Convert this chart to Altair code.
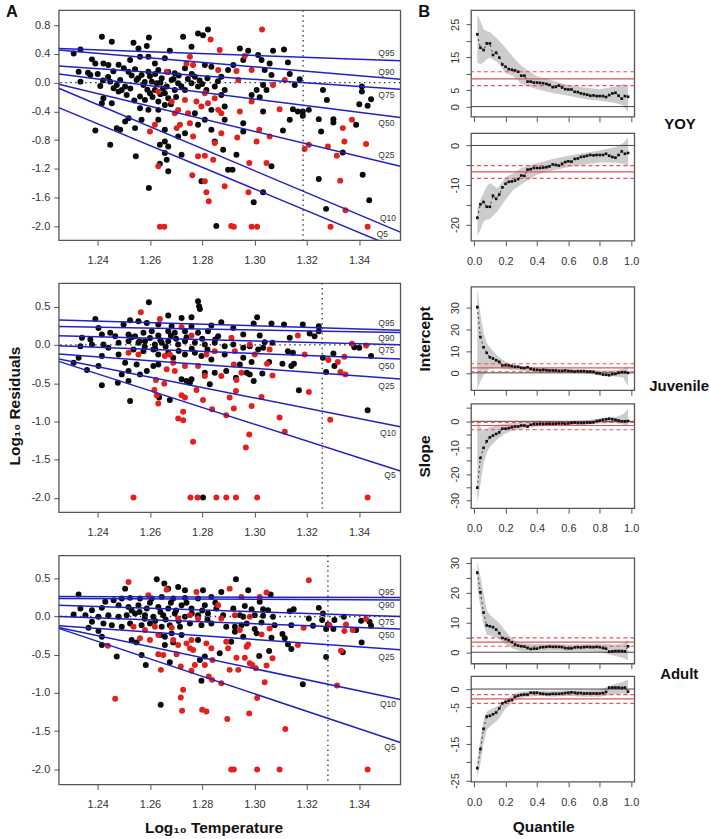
import altair as alt
import pandas as pd

FONT = "Liberation Sans"

# ---------------- Panel A: log10 residuals vs log10 temperature ----------------
TEMP_DOMAIN = [1.2251, 1.3558]
TEMP_TICKS = [1.24, 1.26, 1.28, 1.30, 1.32, 1.34]
QUANT_NAMES = ["Q95", "Q90", "Q75", "Q50", "Q25", "Q10", "Q5"]

# YOY
yoy_black = [
    (1.2416, 0.638), (1.2454, 0.569), (1.2308, 0.407), (1.2334, 0.462), (1.2378, 0.324), (1.2327, 0.153),
    (1.2334, 0.014), (1.2363, 0.139), (1.2372, 0.107), (1.2391, 0.268), (1.2422, 0.268), (1.2441, 0.245),
    (1.2410, -0.046), (1.2448, 0.014), (1.2461, -0.078), (1.2473, -0.032), (1.2480, -0.125), (1.2492, -0.102),
    (1.2486, 0.037), (1.2505, -0.055), (1.2511, -0.171), (1.2422, -0.217), (1.2416, -0.286), (1.2454, -0.286),
    (1.2518, -0.494), (1.2391, -0.666), (1.2448, -0.864), (1.2473, -0.633), (1.2486, -0.656), (1.2537, 0.555),
    (1.2556, 0.476), (1.2588, 0.509), (1.2596, 0.629), (1.2524, 0.315), (1.2562, 0.361), (1.2594, 0.361),
    (1.2619, 0.268), (1.2518, 0.153), (1.2543, 0.185), (1.2568, 0.107), (1.2594, 0.153), (1.2632, 0.176),
    (1.2657, 0.338), (1.2676, 0.444), (1.2549, 0.037), (1.2575, -0.032), (1.2607, 0.014), (1.2626, -0.009),
    (1.2645, 0.060), (1.2664, -0.055), (1.2683, 0.037), (1.2695, 0.130), (1.2727, 0.638), (1.2734, 0.199),
    (1.2759, 0.499), (1.2772, 0.083), (1.2784, 0.684), (1.2803, 0.661), (1.2822, 0.740), (1.2810, 0.245),
    (1.2835, 0.222), (1.2562, -0.194), (1.2581, -0.240), (1.2600, -0.148), (1.2619, -0.102), (1.2632, -0.263),
    (1.2657, -0.148), (1.2562, -0.356), (1.2594, -0.379), (1.2632, -0.379), (1.2657, -0.310), (1.2670, -0.217),
    (1.2505, -0.541), (1.2543, -0.633), (1.2568, -0.518), (1.2632, -0.518), (1.2657, -0.656), (1.2708, -0.749),
    (1.2734, -0.703), (1.2638, -0.864), (1.2657, -0.818), (1.2670, -0.888), (1.2657, -0.980), (1.2664, -1.072),
    (1.2638, -1.128), (1.2670, -1.234), (1.2546, -1.026), (1.2596, -1.465), (1.2721, -1.003), (1.2772, -0.425),
    (1.2784, -0.587), (1.2810, -0.518), (1.2835, -0.656), (1.2848, -0.818), (1.2854, -1.997), (1.2797, -1.373),
    (1.2873, 0.083), (1.2886, -0.102), (1.2899, 0.176), (1.2695, -0.102), (1.2708, -0.009), (1.2734, -0.102),
    (1.2759, -0.009), (1.2784, -0.055), (1.2816, -0.102), (1.2848, -0.055), (1.2873, -0.171), (1.2835, -0.379),
    (1.2886, -0.333), (1.2886, -0.518), (1.2899, -1.211), (1.2880, -0.934),
    (1.2530, 0.100), (1.2555, 0.060), (1.2580, 0.010), (1.2600, 0.090), (1.2620, 0.120), (1.2640, 0.000),
    (1.2650, -0.080), (1.2670, 0.150), (1.2690, 0.050), (1.2710, 0.100), (1.2720, -0.050), (1.2745, 0.050),
    (1.2760, 0.120), (1.2790, 0.030), (1.2800, -0.020), (1.2820, 0.060), (1.2860, 0.020), (1.2590, -0.100),
    (1.2610, -0.200), (1.2640, -0.160), (1.2680, -0.300), (1.2700, -0.200), (1.2525, -0.080), (1.2540, -0.250),
    (1.2500, 0.200), (1.2480, 0.250), (1.2460, 0.160), (1.2440, 0.080), (1.2420, 0.030), (1.2400, 0.120),
    (1.2944, 0.476), (1.2976, 0.444), (1.3014, 0.384), (1.3027, 0.315), (1.3058, 0.268), (1.3071, 0.444),
    (1.3113, 0.462), (1.3128, 0.282), (1.2957, 0.315), (1.2919, 0.245), (1.3039, 0.176), (1.3065, 0.107),
    (1.3135, 0.120), (1.3173, 0.046), (1.3154, -0.032), (1.3033, -0.032), (1.3008, -0.102), (1.2989, -0.171),
    (1.3020, -0.203), (1.3046, -0.102), (1.3147, -0.370), (1.3166, -0.402), (1.3185, -0.402), (1.3208, -0.379),
    (1.3185, -0.462), (1.3135, -0.518), (1.3033, -0.402), (1.3109, -0.666), (1.2957, -0.564), (1.2957, -0.680),
    (1.3262, -0.102), (1.3277, -0.240), (1.3246, -0.508), (1.3255, -0.680), (1.3302, -0.508), (1.3302, -0.555),
    (1.3389, -0.587), (1.3401, -0.300), (1.3433, -0.323), (1.3446, -0.231), (1.3411, -0.125), (1.3411, -0.055),
    (1.3338, -0.971), (1.3246, -1.341), (1.3414, -1.281), (1.3439, -1.636), (1.3274, -1.757), (1.3065, -1.165),
    (1.3033, -1.525), (1.2997, -1.664), (1.2931, -1.003), (1.2916, -1.211),
]
yoy_red = [
    (1.2832, 0.601), (1.2753, 0.361), (1.2740, 0.268), (1.2765, 0.245), (1.2664, 0.153), (1.2632, -0.125),
    (1.2683, -0.263), (1.2695, -0.425), (1.2708, -0.379), (1.2734, -0.240), (1.2746, -0.425), (1.2753, -0.564),
    (1.2619, -0.587), (1.2600, -0.680), (1.2702, -0.633), (1.2715, -0.587), (1.2778, -0.263), (1.2797, -0.333),
    (1.2810, -0.148), (1.2822, -0.286), (1.2848, -0.217), (1.2861, -0.379), (1.2873, -0.425), (1.2765, -0.749),
    (1.2784, -1.026), (1.2810, -1.017), (1.2842, -1.072), (1.2848, -0.841), (1.2810, -1.373), (1.2816, -1.525),
    (1.2825, -1.650), (1.2762, -1.290), (1.2632, -1.165), (1.2638, -2.006), (1.2655, -2.006), (1.2873, -0.703),
    (1.2886, -1.442), (1.2861, 0.176), (1.2867, 0.453), (1.2911, -1.997), (1.3029, 0.740), (1.2963, 0.370),
    (1.2989, 0.176), (1.2931, 0.162), (1.2938, 0.037), (1.2989, -0.263), (1.2944, -0.402), (1.3096, -0.370),
    (1.3116, 0.037), (1.3071, -0.032), (1.3018, -0.656), (1.3058, -0.749), (1.2934, -0.763), (1.3008, -0.818),
    (1.3192, -0.924), (1.3208, -0.864), (1.3281, -0.888), (1.3315, -1.017), (1.3338, -0.633), (1.3344, -0.818),
    (1.3373, -0.518), (1.3427, -0.855), (1.3328, -1.364), (1.3348, -1.775), (1.2980, -1.119), (1.3046, -1.119),
    (1.2977, -1.525), (1.2921, -2.006), (1.2989, -2.006), (1.3010, -2.006), (1.3291, -2.006), (1.3433, -2.006),
]
yoy_line_left = [0.476, 0.453, 0.231, 0.120, -0.023, -0.078, -0.347]
yoy_line_right = [0.305, 0.047, -0.092, -0.486, -1.165, -2.080, -2.325]
yoy_label_x = [1.3474, 1.3474, 1.3474, 1.3474, 1.3474, 1.3480, 1.3468]
yoy_label_y = [0.407, 0.152, -0.171, -0.563, -1.003, -1.881, -2.113]
yoy_vline = 1.3186

# Juvenile
juv_black = [
    (1.2596, 0.557), (1.2784, 0.570), (1.2788, 0.505), (1.2791, 0.470), (1.2670, 0.384), (1.2721, 0.353),
    (1.2759, 0.362), (1.2391, 0.340), (1.2524, 0.323), (1.2499, 0.266), (1.2556, 0.310), (1.2588, 0.288),
    (1.2632, 0.266), (1.2683, 0.245), (1.2759, 0.245), (1.2835, 0.253), (1.2873, 0.297), (1.2403, 0.223),
    (1.2340, 0.093), (1.2372, 0.071), (1.2416, 0.136), (1.2448, 0.158), (1.2467, 0.115), (1.2518, 0.136),
    (1.2543, 0.115), (1.2575, 0.158), (1.2607, 0.180), (1.2632, 0.123), (1.2670, 0.180), (1.2695, 0.158),
    (1.2734, 0.180), (1.2784, 0.158), (1.2822, 0.180), (1.2861, 0.115), (1.2334, -0.016), (1.2378, 0.006),
    (1.2422, 0.006), (1.2441, -0.037), (1.2480, 0.028), (1.2518, 0.049), (1.2556, 0.028), (1.2581, 0.049),
    (1.2619, 0.006), (1.2645, 0.028), (1.2670, 0.049), (1.2708, 0.006), (1.2734, 0.049), (1.2772, 0.028),
    (1.2810, 0.006), (1.2848, 0.028), (1.2886, -0.016), (1.2537, -0.059), (1.2575, -0.081), (1.2613, -0.059),
    (1.2632, -0.124), (1.2670, -0.102), (1.2689, -0.168), (1.2734, -0.124), (1.2772, -0.102), (1.2797, -0.146),
    (1.2835, -0.189), (1.2886, -0.124), (1.2416, -0.146), (1.2480, -0.124), (1.2327, -0.168), (1.2308, -0.233),
    (1.2359, -0.328), (1.2403, -0.276), (1.2505, -0.233), (1.2549, -0.255), (1.2613, -0.276), (1.2632, -0.255),
    (1.2492, -0.385), (1.2518, -0.341), (1.2562, -0.385), (1.2588, -0.341), (1.2518, -0.472), (1.2477, -0.493),
    (1.2416, -0.528), (1.2810, -0.363), (1.2829, -0.515), (1.2848, -0.363), (1.2721, -0.450), (1.2740, -0.472),
    (1.2759, -0.450), (1.2753, -0.493), (1.2676, -0.719), (1.2635, -0.688), (1.2524, -0.732), (1.2803, -1.995),
    (1.2892, -0.341),
    (1.2560, 0.050), (1.2600, 0.090), (1.2640, 0.060), (1.2660, -0.020), (1.2700, 0.080), (1.2740, 0.100),
    (1.2760, -0.050), (1.2800, 0.080), (1.2820, -0.060), (1.2850, 0.070), (1.2620, -0.050), (1.2680, 0.120),
    (1.2710, -0.080), (1.2580, -0.020), (1.2530, 0.100),
    (1.3010, 0.362), (1.2997, 0.279), (1.3065, 0.279), (1.3113, 0.266), (1.3185, 0.266), (1.3246, 0.245),
    (1.3211, 0.149), (1.3230, 0.115), (1.3246, 0.180), (1.2919, 0.223), (1.2957, 0.136), (1.3020, 0.123),
    (1.3039, 0.036), (1.3135, 0.093), (1.2919, 0.006), (1.2957, -0.037), (1.2982, -0.016), (1.3014, -0.059),
    (1.3033, -0.037), (1.3069, 0.028), (1.3128, -0.081), (1.3147, -0.102), (1.2989, -0.224), (1.2957, -0.168),
    (1.2944, -0.255), (1.2970, -0.363), (1.2982, -0.385), (1.2997, -0.472), (1.3030, -0.372), (1.3056, -0.224),
    (1.3107, -0.246), (1.3141, -0.276), (1.3151, -0.246), (1.2929, -0.428), (1.3170, -0.593), (1.3262, -0.168),
    (1.3274, -0.354), (1.3302, -0.111), (1.3306, -0.276), (1.3382, -0.029), (1.3401, -0.037), (1.3446, -0.146),
    (1.3433, -0.853),
]
juv_red = [
    (1.2565, 0.427), (1.2638, 0.340), (1.2721, 0.236), (1.2759, 0.123), (1.2816, -0.124), (1.2848, -0.081),
    (1.2518, -0.102), (1.2556, -0.124), (1.2657, -0.146), (1.2676, -0.124), (1.2689, -0.233), (1.2695, -0.341),
    (1.2664, -0.319), (1.2734, -0.276), (1.2784, -0.276), (1.2810, -0.406), (1.2873, -0.406), (1.2623, -0.458),
    (1.2655, -0.506), (1.2617, -0.589), (1.2626, -0.658), (1.2632, -0.767), (1.2721, -0.658), (1.2734, -0.688),
    (1.2778, -0.589), (1.2803, -0.719), (1.2838, -0.840), (1.2892, -0.918), (1.2905, -0.688), (1.2727, -0.875),
    (1.2708, -0.962), (1.2727, -0.984), (1.2765, -1.266), (1.2537, -1.995), (1.2755, -1.995), (1.2782, -1.995),
    (1.2854, -1.995), (1.2892, -1.995),
    (1.2912, 0.093), (1.2982, 0.006), (1.3058, -0.059), (1.2925, -0.081), (1.3001, -0.124), (1.3192, -0.124),
    (1.3048, -0.246), (1.2921, -0.255), (1.2950, -0.363), (1.3069, -0.398), (1.2931, -0.458), (1.2929, -0.601),
    (1.3208, -0.615), (1.3027, -0.680), (1.2989, -0.797), (1.2921, -0.832), (1.3096, -0.949), (1.3116, -1.135),
    (1.2980, -1.170), (1.2967, -1.340), (1.3290, -0.979), (1.3166, 0.123), (1.3283, -0.198), (1.3319, -0.224),
    (1.3329, -0.354), (1.3348, -0.385), (1.3344, -0.155), (1.3373, 0.015), (1.3427, -0.007), (1.2929, -1.995),
    (1.3010, -1.995), (1.3433, -1.995),
]
juv_line_left = [0.327, 0.240, 0.119, -0.011, -0.120, -0.185, -0.215]
juv_line_right = [0.193, 0.162, 0.002, -0.185, -0.445, -1.070, -1.648]
juv_label_x = [1.3474, 1.3474, 1.3474, 1.3474, 1.3474, 1.3480, 1.3497]
juv_label_y = [0.292, 0.088, -0.063, -0.281, -0.541, -1.148, -1.704]
juv_vline = 1.3259

# Adult
adult_black = [
    (1.2626, 0.487), (1.2655, 0.431), (1.2505, 0.365), (1.2327, 0.287), (1.2670, 0.365), (1.2708, 0.387),
    (1.2734, 0.344), (1.2803, 0.344), (1.2873, 0.322), (1.2429, 0.192), (1.2461, 0.213), (1.2492, 0.235),
    (1.2524, 0.244), (1.2562, 0.235), (1.2607, 0.235), (1.2645, 0.257), (1.2689, 0.235), (1.2734, 0.244),
    (1.2784, 0.235), (1.2835, 0.257), (1.2334, 0.105), (1.2378, 0.083), (1.2416, 0.113), (1.2480, 0.148),
    (1.2518, 0.126), (1.2556, 0.148), (1.2588, 0.105), (1.2632, 0.126), (1.2670, 0.105), (1.2721, 0.148),
    (1.2759, 0.105), (1.2810, 0.148), (1.2854, 0.105), (1.2308, 0.026), (1.2353, 0.018), (1.2403, -0.004),
    (1.2441, 0.018), (1.2480, -0.004), (1.2511, 0.018), (1.2543, 0.039), (1.2581, 0.018), (1.2613, -0.004),
    (1.2651, 0.018), (1.2695, 0.039), (1.2734, -0.004), (1.2784, 0.018), (1.2822, 0.039), (1.2880, 0.018),
    (1.2378, -0.069), (1.2422, -0.091), (1.2454, -0.113), (1.2492, -0.134), (1.2524, -0.091), (1.2568, -0.113),
    (1.2600, -0.091), (1.2645, -0.134), (1.2676, -0.113), (1.2715, -0.134), (1.2753, -0.091), (1.2797, -0.113),
    (1.2835, -0.091), (1.2892, -0.134), (1.2365, -0.147), (1.2403, -0.191), (1.2416, -0.265), (1.2416, -0.373),
    (1.2473, -0.525), (1.2530, -0.308), (1.2549, -0.339), (1.2568, -0.504), (1.2584, -0.634), (1.2638, -0.243),
    (1.2657, -0.265), (1.2683, -0.221), (1.2657, -0.373), (1.2689, -0.339), (1.2676, -0.599), (1.2721, -0.243),
    (1.2784, -0.308), (1.2791, -0.569), (1.2810, -0.525), (1.2797, -0.843), (1.2867, -0.482), (1.2911, -0.330),
    (1.2641, -1.156),
    (1.2560, 0.060), (1.2600, 0.180), (1.2640, 0.060), (1.2660, -0.040), (1.2700, 0.080), (1.2740, 0.180),
    (1.2760, 0.040), (1.2800, 0.080), (1.2820, -0.040), (1.2850, 0.180), (1.2620, -0.060), (1.2680, 0.180),
    (1.2710, -0.060), (1.2580, -0.030), (1.2530, 0.080),
    (1.2929, 0.487), (1.2976, 0.344), (1.3062, 0.287), (1.3020, 0.192), (1.2919, 0.105), (1.2963, 0.139),
    (1.2989, 0.096), (1.3033, 0.096), (1.3052, 0.083), (1.3135, 0.070), (1.3150, 0.096), (1.3246, 0.113),
    (1.2944, 0.018), (1.2957, -0.004), (1.3001, 0.018), (1.3033, 0.009), (1.3071, -0.004), (1.3208, -0.026),
    (1.3262, 0.039), (1.3259, -0.047), (1.3281, -0.104), (1.3342, -0.004), (1.3306, -0.047), (1.3408, -0.056),
    (1.3440, -0.069), (1.3446, -0.121), (1.2925, -0.134), (1.2950, -0.113), (1.2970, -0.091), (1.3027, -0.078),
    (1.3077, -0.113), (1.3141, -0.113), (1.3224, -0.121), (1.3274, -0.165), (1.3302, -0.165), (1.3389, -0.178),
    (1.2925, -0.200), (1.2957, -0.265), (1.3008, -0.221), (1.3001, -0.165), (1.3065, -0.278), (1.3107, -0.230),
    (1.3116, -0.286), (1.3128, -0.365), (1.3141, -0.426), (1.3056, -0.452), (1.3018, -0.517), (1.3274, -0.530),
    (1.3338, -0.469), (1.3410, -0.339), (1.3185, -0.886),
]
adult_red = [
    (1.2518, 0.452), (1.2664, 0.352), (1.2778, 0.322), (1.2905, 0.365), (1.2594, 0.278), (1.2753, 0.018),
    (1.2784, -0.026), (1.2708, -0.026), (1.2861, 0.148), (1.2873, -0.026), (1.2537, -0.134), (1.2619, -0.134),
    (1.2581, -0.178), (1.2683, -0.147), (1.2562, -0.286), (1.2600, -0.308), (1.2632, -0.243), (1.2689, -0.308),
    (1.2708, -0.373), (1.2740, -0.352), (1.2759, -0.308), (1.2753, -0.417), (1.2816, -0.352), (1.2835, -0.417),
    (1.2892, -0.330), (1.2899, -0.417), (1.2439, -0.382), (1.2632, -0.495), (1.2651, -0.504), (1.2702, -0.495),
    (1.2765, -0.439), (1.2772, -0.634), (1.2810, -0.634), (1.2839, -0.569), (1.2642, -0.699), (1.2718, -0.656),
    (1.2759, -0.712), (1.2825, -0.786), (1.2838, -0.830), (1.2873, -0.873), (1.2905, -0.699), (1.2467, -1.077),
    (1.2727, -0.960), (1.2718, -1.060), (1.2723, -1.234), (1.2800, -1.221), (1.2816, -1.243), (1.2896, -1.343),
    (1.2911, -2.003),
    (1.3208, 0.474), (1.3046, 0.313), (1.2950, 0.257), (1.3020, 0.257), (1.2982, -0.004), (1.2925, 0.018),
    (1.2944, -0.178), (1.3058, -0.156), (1.3188, -0.147), (1.3287, -0.113), (1.3344, -0.191), (1.3350, -0.104),
    (1.3376, -0.178), (1.3427, -0.034), (1.3027, -0.234), (1.2970, -0.395), (1.2976, -0.365), (1.2931, -0.539),
    (1.2963, -0.539), (1.3069, -0.547), (1.2982, -0.612), (1.2992, -0.634), (1.3046, -0.643), (1.2938, -0.699),
    (1.3005, -0.678), (1.3166, -0.373), (1.3331, -0.447), (1.3039, -0.860), (1.3316, -0.904), (1.3010, -1.069),
    (1.2980, -1.269), (1.3118, -1.473), (1.2921, -2.003), (1.3010, -2.003), (1.3096, -2.003), (1.3433, -2.003),
]
adult_line_left = [0.261, 0.235, 0.148, 0.000, -0.122, -0.143, -0.156]
adult_line_right = [0.248, 0.217, 0.000, -0.165, -0.435, -1.087, -1.651]
adult_label_x = [1.3474, 1.3474, 1.3474, 1.3474, 1.3474, 1.3480, 1.3497]
adult_label_y = [0.322, 0.148, -0.069, -0.243, -0.534, -1.143, -1.707]
adult_vline = 1.3281

# ---------------- Panel B: quantile regression coefficients ----------------
QUANTILES = [round(0.02 * k, 2) for k in range(1, 50)]
BAND_Q = [0.02, 0.04, 0.06, 0.08, 0.10, 0.15, 0.20, 0.25, 0.30, 0.40, 0.50, 0.60, 0.70, 0.80, 0.90, 0.95, 0.98]
Q_TICKS = [0.0, 0.2, 0.4, 0.6, 0.8, 1.0]

yoy_int = [22.0, 17.9, 17.2, 19.2, 19.2, 15.7, 16.4, 14.9, 12.8, 12.1, 11.4, 11.2, 11.0, 10.6, 9.4, 9.4, 7.6,
           7.6, 7.3, 7.3, 7.2, 7.1, 6.9, 6.6, 5.9, 6.0, 6.4, 5.8, 5.3, 5.2, 5.2, 4.5, 4.4, 4.0, 3.8, 3.6, 3.3,
           3.4, 3.2, 3.2, 3.2, 2.9, 3.5, 4.0, 4.2, 3.3, 2.4, 3.2, 3.0]
yoy_int_lo = [13.4, 12.9, 13.4, 14.4, 14.9, 13.4, 10.2, 9.2, 6.9, 5.3, 4.1, 3.3, 2.3, 1.8, 1.1, 0.3, -1.7]
yoy_int_hi = [28.0, 26.0, 23.5, 23.0, 22.7, 20.5, 17.9, 14.9, 12.4, 9.2, 7.9, 6.6, 5.8, 5.3, 6.1, 6.9, 6.4]
yoy_int_ols = [8.4, 6.4, 10.6]
yoy_slope = [-18.3, -14.9, -14.3, -15.5, -15.5, -12.7, -13.5, -12.4, -10.6, -9.7, -9.2, -9.1, -8.9, -8.5,
             -7.6, -7.7, -6.1, -6.0, -5.7, -5.7, -5.7, -5.6, -5.5, -5.3, -4.8, -4.9, -5.1, -4.6, -4.2, -4.0,
             -4.1, -3.4, -3.3, -2.9, -2.8, -2.6, -2.4, -2.5, -2.4, -2.4, -2.4, -2.1, -2.6, -2.9, -3.1, -2.4,
             -1.5, -2.1, -1.9]
yoy_slope_lo = [-22.9, -21.3, -19.2, -18.7, -18.6, -16.6, -13.7, -11.2, -9.9, -7.4, -6.3, -5.5, -4.9, -4.3, -4.3, -4.6, -5.3]
yoy_slope_hi = [-15.8, -13.7, -12.0, -10.3, -9.5, -10.8, -8.0, -7.0, -5.7, -4.5, -3.4, -2.6, -1.9, -1.3, -0.4, 0.6, 2.0]
yoy_slope_ols = [-6.7, -8.3, -5.1]

juv_int = [30.3, 16.5, 11.8, 9.2, 7.2, 6.6, 5.8, 5.1, 3.4, 3.5, 3.4, 3.1, 2.8, 2.8, 2.3, 2.2, 2.6, 1.8, 1.5,
           1.4, 1.2, 1.4, 1.2, 1.1, 1.1, 1.1, 0.9, 0.9, 1.1, 0.9, 0.8, 0.6, 0.8, 0.8, 0.8, 0.6, 0.6, 0.5,
           -0.2, -0.3, -0.8, -0.9, -1.1, -0.6, -0.5, 0.0, 0.3, 0.3, 0.0]
juv_int_lo = [-7.7, -3.8, -1.1, 0.8, 2.0, 2.3, 1.7, 1.2, 1.1, 0.3, 0.2, 0.0, -0.2, -1.2, -1.7, -2.3, -6.2]
juv_int_hi = [38.5, 26.9, 18.5, 13.8, 11.8, 7.7, 5.1, 3.8, 3.1, 2.3, 2.0, 1.7, 1.4, 1.2, 1.2, 2.0, 3.1]
juv_int_ols = [2.3, 0.5, 4.2]
juv_slope = [-25.2, -13.9, -10.1, -7.6, -6.1, -5.4, -4.8, -4.2, -2.8, -2.8, -2.6, -2.3, -2.0, -2.0, -1.6,
             -1.6, -2.0, -1.3, -1.0, -1.0, -0.9, -1.0, -0.9, -0.9, -0.9, -0.9, -0.8, -0.8, -0.9, -0.8, -0.6,
             -0.5, -0.6, -0.6, -0.6, -0.5, -0.5, -0.4, 0.1, 0.3, 0.6, 0.8, 1.0, 0.8, 0.6, 0.3, 0.0, 0.0, 0.1]
juv_slope_lo = [-31.3, -23.7, -16.1, -12.1, -9.8, -6.7, -4.5, -3.5, -2.9, -2.0, -1.8, -1.6, -1.4, -0.8, -0.6, -1.3, -1.6]
juv_slope_hi = [0.9, -2.3, -3.5, -2.9, -2.3, -1.3, -0.8, -0.5, -0.4, -0.1, -0.1, 0.0, 0.3, 1.1, 1.5, 2.8, 4.7]
juv_slope_ols = [-1.6, -3.2, -0.4]

adult_int = [26.7, 20.1, 13.3, 9.0, 8.7, 8.4, 7.6, 6.4, 4.8, 4.4, 4.0, 3.4, 2.6, 2.2, 2.0, 1.9, 1.4, 1.1,
             1.2, 1.2, 1.6, 1.7, 1.8, 1.9, 1.8, 1.8, 1.8, 1.7, 1.4, 1.3, 1.3, 1.6, 1.7, 1.6, 1.7, 1.8, 1.7,
             1.7, 1.8, 1.7, 1.4, 1.2, 0.2, 0.3, 0.4, 0.4, 0.4, 0.3, 2.0]
adult_int_lo = [21.4, 15.3, 9.2, 5.9, 5.6, 4.8, 2.6, 1.1, 0.3, 0.3, 0.6, 0.3, 0.3, 0.1, -1.3, -1.9, -2.7]
adult_int_hi = [30.3, 25.3, 19.8, 14.2, 12.6, 10.3, 7.0, 4.2, 3.1, 2.8, 2.9, 2.6, 2.8, 2.9, 2.6, 2.9, 4.2]
adult_int_ols = [3.4, 2.0, 4.8]
adult_slope = [-21.6, -16.4, -10.9, -7.5, -7.3, -6.9, -6.4, -5.3, -3.9, -3.5, -3.2, -3.0, -2.1, -1.8, -1.6,
               -1.5, -1.5, -1.0, -1.0, -1.0, -1.2, -1.3, -1.4, -1.4, -1.3, -1.3, -1.3, -1.2, -1.1, -1.0,
               -0.9, -1.0, -1.1, -1.1, -1.2, -1.2, -1.2, -1.2, -1.2, -1.2, -1.1, -0.8, 0.4, 0.4, 0.4, 0.4,
               0.3, 0.4, -0.7]
adult_slope_lo = [-24.4, -20.3, -14.8, -11.2, -10.3, -8.5, -5.3, -3.5, -2.3, -1.9, -2.1, -1.9, -2.1, -2.1, -1.4, -1.2, -1.6]
adult_slope_hi = [-19.4, -13.5, -8.5, -6.2, -5.7, -4.6, -2.8, -1.4, -0.7, -0.5, -0.5, -0.3, -0.3, -0.1, 1.4, 2.0, 2.6]
adult_slope_ols = [-2.7, -3.9, -1.5]

GROUP_NAMES = ["YOY", "Juvenile", "Adult"]

BLUE = "#2222c4"
RED_PT = "#e3211c"
OLS_RED = "#e05558"
BAND_GREY = "#cccccc"
DOTTED = "#333333"


def ascii_minus(fmt):
    return f"replace(format(datum.value, '{fmt}'), '\u2212', '-')"


def letter_layer(letter, y):
    return alt.Chart(pd.DataFrame({"t": [letter]})).mark_text(
        align="left", baseline="alphabetic", fontSize=16.5, fontWeight="bold", font=FONT, color="#111111"
    ).encode(x=alt.value(-53), y=alt.value(y), text="t:N")


def residual_panel(black, red, line_left, line_right, label_x, label_y, vline, ydom, yticks, height,
                   xtitle=None, ytitle=None, letter=None):
    pts = pd.DataFrame([(x, y, "black") for x, y in black] + [(x, y, "red") for x, y in red],
                       columns=["x", "y", "grp"])
    lines = pd.DataFrame(
        [(q, TEMP_DOMAIN[0], a) for q, a in zip(QUANT_NAMES, line_left)]
        + [(q, TEMP_DOMAIN[1], b) for q, b in zip(QUANT_NAMES, line_right)],
        columns=["q", "x", "y"])
    labels = pd.DataFrame({"q": QUANT_NAMES, "x": label_x, "y": label_y})

    xaxis = dict(values=TEMP_TICKS, format=".2f", tickSize=5, labelPadding=9, title=None)
    if xtitle:
        xaxis.update(title=xtitle, titleX=155.5, titlePadding=11, titleAlign="center")
    yaxis = dict(values=yticks, labelExpr=ascii_minus(".1f"), tickSize=5, labelPadding=4, title=None)
    if ytitle:
        yaxis.update(title=ytitle, titleX=-36, titleY=123, titleAngle=270, titleAlign="center",
                     titleBaseline="bottom")

    X = alt.X("x:Q", scale=alt.Scale(domain=TEMP_DOMAIN, nice=False, zero=False), axis=alt.Axis(**xaxis))
    Y = alt.Y("y:Q", scale=alt.Scale(domain=ydom, nice=False, zero=False), axis=alt.Axis(**yaxis))

    layers = [
        alt.Chart(pts).mark_circle(size=36, opacity=1).encode(
            x=X, y=Y,
            color=alt.Color("grp:N", scale=alt.Scale(domain=["black", "red"], range=["#0a0a0a", RED_PT]),
                            legend=None)),
        alt.Chart(pd.DataFrame({"y": [0.0]})).mark_rule(color=DOTTED, strokeDash=[1.5, 3.5], strokeWidth=1.3).encode(y=Y),
        alt.Chart(pd.DataFrame({"x": [vline]})).mark_rule(color=DOTTED, strokeDash=[1.5, 3.5], strokeWidth=1.3).encode(x=X),
        alt.Chart(lines).mark_line(color=BLUE, strokeWidth=1.5, clip=True).encode(x=X, y=Y, detail="q:N"),
        alt.Chart(labels).mark_text(align="left", baseline="middle", fontSize=8.5, color="#333333",
                                    font=FONT).encode(x=X, y=Y, text="q:N"),
    ]
    if letter:
        layers.append(letter_layer(letter, 6.7))
    return alt.layer(*layers).properties(width=343, height=height)


def coef_panel(est, lo, hi, ols, ydom, yticks, ylabels, height, xlabels, xtitle=None, ytitle=None, letter=None):
    est_df = pd.DataFrame({"q": QUANTILES, "v": est})
    band_df = pd.DataFrame({"q": BAND_Q, "v": lo, "v2": hi})
    fit_df = pd.DataFrame({"v": ols[:1]})
    ci_df = pd.DataFrame({"v": ols[1:]})
    zero_df = pd.DataFrame({"v": [0.0]})

    xaxis = dict(values=Q_TICKS, format=".1f", tickSize=5, labelPadding=9.5, labels=xlabels, title=None)
    if xtitle:
        xaxis.update(title=xtitle, titleX=72.5, titlePadding=12, titleAlign="center")
    shown = ",".join(str(v) for v in ylabels)
    yaxis = dict(values=yticks, tickSize=5, labelPadding=6, labelAngle=270, title=None,
                 labelExpr=f"indexof([{shown}], datum.value) < 0 ? '' : " + ascii_minus("d"))
    if ytitle:
        yaxis.update(title=ytitle, titleX=-39, titleY=height / 2, titleAngle=270, titleAlign="center",
                     titleBaseline="bottom")

    X = alt.X("q:Q", scale=alt.Scale(domain=[-0.02, 1.02], nice=False, zero=False), axis=alt.Axis(**xaxis))
    Y = alt.Y("v:Q", scale=alt.Scale(domain=ydom, nice=False, zero=False), axis=alt.Axis(**yaxis))

    layers = [
        alt.Chart(band_df).mark_area(color=BAND_GREY, opacity=1, clip=True).encode(x=X, y=Y, y2=alt.Y2("v2:Q")),
        alt.Chart(zero_df).mark_rule(color="#444444", strokeWidth=1).encode(y=Y),
        alt.Chart(fit_df).mark_rule(color=OLS_RED, strokeWidth=1.2).encode(y=Y),
        alt.Chart(ci_df).mark_rule(color=OLS_RED, strokeWidth=1.2, strokeDash=[4, 3]).encode(y=Y),
        alt.Chart(est_df).mark_line(color="#111111", strokeWidth=0.8, strokeDash=[2, 3]).encode(x=X, y=Y),
        alt.Chart(est_df).mark_square(size=7, color="#111111", opacity=1).encode(x=X, y=Y),
    ]
    if letter:
        layers.append(letter_layer(letter, 6.7))
    return alt.layer(*layers).properties(width=164, height=height)


LEFT_TICKS_YOY = [0.8, 0.4, 0.0, -0.4, -0.8, -1.2, -1.6, -2.0]
LEFT_TICKS = [0.5, 0.0, -0.5, -1.0, -1.5, -2.0]

a1 = residual_panel(yoy_black, yoy_red, yoy_line_left, yoy_line_right, yoy_label_x, yoy_label_y, yoy_vline,
                    [-2.194, 1.008], LEFT_TICKS_YOY, 231, letter="A")
a2 = residual_panel(juv_black, juv_red, juv_line_left, juv_line_right, juv_label_x, juv_label_y, juv_vline,
                    [-2.186, 0.809], LEFT_TICKS, 230, ytitle="Log\u2081\u2080 Residuals")
a3 = residual_panel(adult_black, adult_red, adult_line_left, adult_line_right, adult_label_x, adult_label_y,
                    adult_vline, [-2.2, 0.80], LEFT_TICKS, 230, xtitle="Log\u2081\u2080 Temperature")

b1 = coef_panel(yoy_int, yoy_int_lo, yoy_int_hi, yoy_int_ols, [-3.1, 29.3], [0, 5, 10, 15, 20, 25],
                [0, 5, 15, 25], 107, False, letter="B")
b2 = coef_panel(yoy_slope, yoy_slope_lo, yoy_slope_hi, yoy_slope_ols, [-24.1, 3.1], [0, -5, -10, -15, -20],
                [0, -10, -20], 108, True)
b3 = coef_panel(juv_int, juv_int_lo, juv_int_hi, juv_int_ols, [-8.0, 39.7], [0, 10, 20, 30],
                [0, 10, 20, 30], 104, False, ytitle="Intercept")
b4 = coef_panel(juv_slope, juv_slope_lo, juv_slope_hi, juv_slope_ols, [-33.0, 6.7],
                [5, 0, -5, -10, -15, -20, -25, -30], [0, -10, -20, -30], 105, True, ytitle="Slope")
b5 = coef_panel(adult_int, adult_int_lo, adult_int_hi, adult_int_ols, [-3.8, 31.6], [0, 5, 10, 15, 20, 25, 30],
                [0, 10, 20, 30], 106, False)
b6 = coef_panel(adult_slope, adult_slope_lo, adult_slope_hi, adult_slope_ols, [-25.3, 3.5],
                [0, -5, -10, -15, -20, -25], [0, -5, -15, -25], 106, True, xtitle="Quantile")

# age-group names to the right of the coefficient panels
group_layers = [
    alt.Chart(pd.DataFrame({"t": [name]})).mark_text(
        align="left", baseline="middle", fontSize=15, fontWeight="bold", font=FONT, color="#111111"
    ).encode(x=alt.value(gx), y=alt.value(gy), text="t:N")
    for name, gx, gy in zip(GROUP_NAMES, [23, 8, 19], [114, 377, 667])
]
side = alt.layer(*group_layers).properties(width=1, height=772, view=alt.ViewBackground(stroke="transparent"))

left = alt.vconcat(alt.vconcat(a1, a2, spacing=15), a3, spacing=15.5)
right = alt.vconcat(
    alt.vconcat(alt.vconcat(b1, b2, spacing=8.5), alt.vconcat(b3, b4, spacing=5.5), spacing=18.6),
    alt.vconcat(b5, b6, spacing=4.7),
    spacing=21.1)

chart = alt.hconcat(left, alt.hconcat(right, side, spacing=0), spacing=14).properties(
    padding={"left": 5, "top": 1.5, "right": 0, "bottom": 0}
).configure_view(
    stroke="#555555", strokeWidth=1.3
).configure_axis(
    labelFont=FONT, labelFontSize=11, labelColor="#333333", tickColor="#555555", tickWidth=1,
    domain=False, grid=False, titleFont=FONT, titleFontSize=15.5, titleFontWeight="bold", titleColor="#111111"
)

chart.save("out.html", embed_options={"renderer": "svg", "actions": False})
